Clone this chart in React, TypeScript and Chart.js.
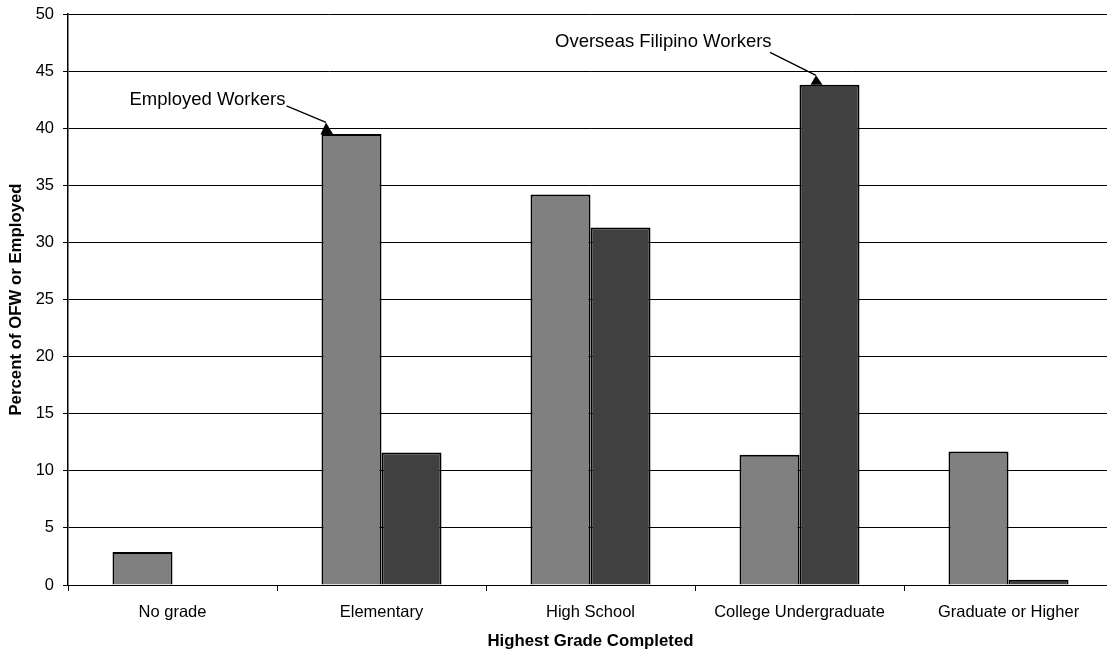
import React, { useEffect, useRef } from "react";
import { Chart, registerables } from "chart.js";

Chart.register(...registerables);

const categories = [
  "No grade",
  "Elementary",
  "High School",
  "College Undergraduate",
  "Graduate or Higher",
];
const employedWorkers = [2.9, 39.5, 34.2, 11.4, 11.7];
const overseasWorkers = [0, 11.6, 31.3, 43.8, 0.45];
const yTicks = [0, 5, 10, 15, 20, 25, 30, 35, 40, 45, 50];

const FONT = "'Liberation Sans', Arial, Helvetica, sans-serif";

// Callout text with an arrow pointing at a bar top.
type Callout = {
  dataset: number;
  index: number;
  text: string;
  textAt: [number, number];
  lineFrom: [number, number];
  apex: [number, number];
  baseL: [number, number];
  baseR: [number, number];
};

const callouts: Callout[] = [
  {
    dataset: 0,
    index: 1,
    text: "Employed Workers",
    textAt: [-192, -28.5],
    lineFrom: [-35, -28],
    apex: [4.5, -11.5],
    baseL: [-1, 0.5],
    baseR: [11.5, 0],
  },
  {
    dataset: 1,
    index: 3,
    text: "Overseas Filipino Workers",
    textAt: [-244.5, -37.5],
    lineFrom: [-29.5, -32.5],
    apex: [16.5, -9.5],
    baseL: [11, 0],
    baseR: [23, 0],
  },
];

const calloutPlugin = {
  id: "callouts",
  afterDatasetsDraw(chart: any) {
    const ctx = chart.ctx as CanvasRenderingContext2D;
    ctx.save();
    for (const c of callouts) {
      const bar = chart.getDatasetMeta(c.dataset).data[c.index] as any;
      const left = bar.x - bar.width / 2;
      const top = bar.y;
      const p = (o: [number, number]) => [left + o[0], top + o[1]] as const;

      ctx.fillStyle = "#000";
      ctx.font = `18.5px ${FONT}`;
      ctx.textAlign = "left";
      ctx.textBaseline = "alphabetic";
      const t = p(c.textAt);
      ctx.fillText(c.text, t[0], t[1]);

      const a = p(c.lineFrom);
      const b = p(c.apex);
      ctx.strokeStyle = "#000";
      ctx.lineWidth = 1.3;
      ctx.beginPath();
      ctx.moveTo(a[0], a[1]);
      ctx.lineTo(b[0], b[1]);
      ctx.stroke();

      const l = p(c.baseL);
      const r = p(c.baseR);
      ctx.beginPath();
      ctx.moveTo(b[0], b[1]);
      ctx.lineTo(l[0], l[1]);
      ctx.lineTo(r[0], r[1]);
      ctx.closePath();
      ctx.fill();
    }
    ctx.restore();
  },
};

export default function App() {
  const canvasRef = useRef<HTMLCanvasElement | null>(null);

  useEffect(() => {
    document.body.style.overflow = "hidden";
    const canvas = canvasRef.current;
    if (!canvas) return;
    const chart = new Chart(canvas, {
      type: "bar",
      data: {
        labels: categories,
        datasets: [
          {
            label: "Employed Workers",
            data: employedWorkers,
            backgroundColor: "#808080",
            borderColor: "#000",
            borderWidth: 2,
          },
          {
            label: "Overseas Filipino Workers",
            data: overseasWorkers,
            backgroundColor: "#404040",
            borderColor: "#000",
            borderWidth: 2,
          },
        ],
      },
      options: {
        animation: false,
        responsive: false,
        maintainAspectRatio: false,
        devicePixelRatio: 1,
        layout: { padding: { top: 14, right: 7, left: 0, bottom: 0 } },
        datasets: {
          bar: { categoryPercentage: 0.5742, barPercentage: 1 },
        },
        plugins: {
          legend: { display: false },
          tooltip: { enabled: false },
          title: { display: false },
        },
        scales: {
          x: {
            offset: true,
            grid: {
              offset: true,
              drawOnChartArea: false,
              drawTicks: true,
              tickLength: 6,
              color: "#000",
            },
            border: { display: true, color: "#000", width: 1 },
            ticks: {
              color: "#000",
              font: { family: FONT, size: 16.5 },
              padding: 12,
              maxRotation: 0,
              autoSkip: false,
            },
            title: {
              display: true,
              text: "Highest Grade Completed",
              color: "#000",
              font: { family: FONT, size: 16.8, weight: "bold" },
              padding: { top: 0, bottom: 2 },
            },
            afterFit(scale: any) {
              scale.height = 68;
            },
          },
          y: {
            min: 0,
            max: 50,
            afterBuildTicks(scale: any) {
              scale.ticks = yTicks.map((v) => ({ value: v }));
            },
            grid: {
              color: "#000",
              lineWidth: 1,
              drawTicks: true,
              tickLength: 5,
            },
            border: { display: true, color: "#000", width: 1.5 },
            ticks: {
              color: "#000",
              font: { family: FONT, size: 16.5 },
              padding: 9,
            },
            title: {
              display: true,
              text: "Percent of OFW or Employed",
              color: "#000",
              font: { family: FONT, size: 16.8, weight: "bold" },
              padding: { top: 6, bottom: 0 },
            },
            afterFit(scale: any) {
              scale.width = 68;
              scale.paddingTop = 0;
              scale.paddingBottom = 0;
            },
          },
        },
      },
      plugins: [calloutPlugin],
    });
    return () => chart.destroy();
  }, []);

  return (
    <div
      style={{
        position: "fixed",
        left: 0,
        top: 0,
        width: 1120,
        height: 653,
        background: "#fff",
      }}
    >
      <canvas ref={canvasRef} width={1120} height={653} />
    </div>
  );
}
